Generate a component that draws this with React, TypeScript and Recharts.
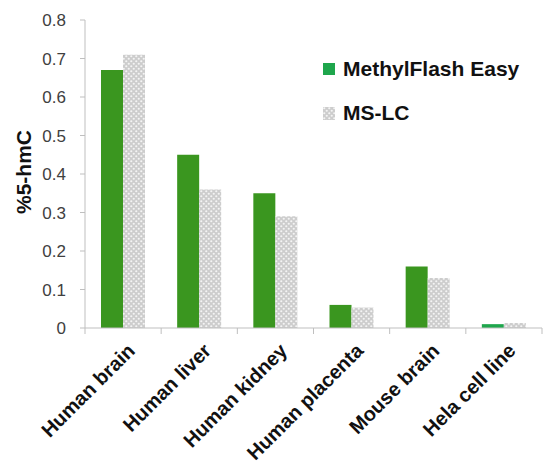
import { Bar, BarChart, Cell, XAxis, YAxis } from "recharts"

// categories and values
const categories = ["Human brain", "Human liver", "Human kidney", "Human placenta", "Mouse brain", "Hela cell line"]
const methylFlash = [0.67, 0.45, 0.35, 0.06, 0.16, 0.01]
const msLc = [0.71, 0.36, 0.29, 0.053, 0.13, 0.013]
const yTicks = [0, 0.1, 0.2, 0.3, 0.4, 0.5, 0.6, 0.7, 0.8]
const seriesNames = ["MethylFlash Easy", "MS-LC"]

const data = categories.map((name, i) => ({ name, mf: methylFlash[i], ms: msLc[i] }))

const W = 543
const H = 471
const xAxisHeight = 30
const margin = { top: 20, right: 1, left: 0, bottom: 143 - xAxisHeight }
const yAxisWidth = 85
const bandWidth = (W - margin.left - margin.right - yAxisWidth) / categories.length

const green = "#3a961f"
const legendGreen = "#1ea64c"
const font = "'Liberation Sans', Arial, sans-serif"

function CategoryTick(props: any) {
  const { x, y, payload, index } = props
  const left = x - bandWidth / 2
  return (
    <g>
      <line x1={left} y1={y} x2={left} y2={y + 6} stroke="#bfbfbf" />
      {index === categories.length - 1 && (
        <line x1={x + bandWidth / 2} y1={y} x2={x + bandWidth / 2} y2={y + 6} stroke="#bfbfbf" />
      )}
      <text
        transform={`translate(${x + 13},${y + 24}) rotate(-45)`}
        textAnchor="end"
        fontSize={20}
        fontWeight="bold"
        fontFamily={font}
        fill="#111"
      >
        {payload.value}
      </text>
    </g>
  )
}

function LegendBox() {
  return (
    <div
      style={{
        position: "absolute",
        left: 323,
        top: 56,
        fontFamily: font,
        fontWeight: "bold",
        fontSize: 21,
        color: "#111",
      }}
    >
      <div style={{ display: "flex", alignItems: "center", height: 26 }}>
        <span style={{ display: "inline-block", width: 12, height: 12, background: legendGreen, marginRight: 8 }} />
        {seriesNames[0]}
      </div>
      <div style={{ display: "flex", alignItems: "center", height: 26, marginTop: 18 }}>
        <svg width={12} height={13} style={{ marginRight: 8 }}>
          <rect width={12} height={13} fill="url(#dots)" />
        </svg>
        {seriesNames[1]}
      </div>
    </div>
  )
}

export default function App() {
  return (
    <div style={{ position: "absolute", left: 0, top: 0, width: W, height: H, background: "#fff" }}>
      <BarChart width={W} height={H} data={data} margin={margin} barGap={0} barSize={22}>
        <defs>
          <pattern id="dots" patternUnits="userSpaceOnUse" width={5} height={5}>
            <rect width={5} height={5} fill="#cdcdcd" />
            <circle cx={1.25} cy={1.25} r={1.1} fill="#f4f4f4" />
            <circle cx={3.75} cy={3.75} r={1.1} fill="#f4f4f4" />
          </pattern>
        </defs>
        <XAxis
          dataKey="name"
          height={xAxisHeight}
          interval={0}
          tickLine={false}
          tickSize={0}
          tickMargin={0}
          axisLine={{ stroke: "#bfbfbf" }}
          tick={<CategoryTick />}
        />
        <YAxis
          width={yAxisWidth}
          domain={[0, 0.8]}
          ticks={yTicks}
          tickFormatter={(v: number) => String(v)}
          axisLine={{ stroke: "#bfbfbf" }}
          tickLine={{ stroke: "#bfbfbf" }}
          tickSize={5}
          tickMargin={14}
          tick={{ fontSize: 17, fill: "#404040", fontFamily: font }}
          label={{
            content: () => (
              <text
                transform="translate(31,172) rotate(-90)"
                textAnchor="middle"
                fontSize={21}
                fontWeight="bold"
                fontFamily={font}
                fill="#111"
              >
                %5-hmC
              </text>
            ),
          }}
        />
        <Bar dataKey="mf" name={seriesNames[0]} fill={green} isAnimationActive={false}>
          {data.map((d, i) => (
            <Cell key={d.name} fill={i === data.length - 1 ? legendGreen : green} />
          ))}
        </Bar>
        <Bar dataKey="ms" name={seriesNames[1]} fill="url(#dots)" isAnimationActive={false} />
      </BarChart>
      <LegendBox />
    </div>
  )
}
